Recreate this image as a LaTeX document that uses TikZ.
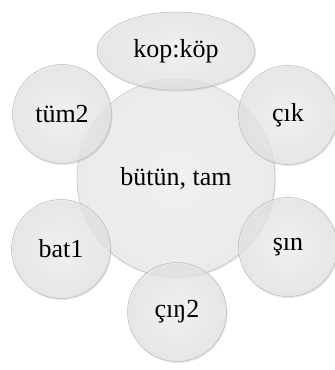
\documentclass[tikz,border=0pt]{standalone}
\usepackage{fontspec}
\setmainfont{Liberation Serif}
\usetikzlibrary{shapes.geometric,shadows}

\begin{document}
\begin{tikzpicture}[x=1pt, y=1pt,
		bubble/.style={draw=gray!55, line width=0.5pt, shading=radial,
			inner color=gray!8, outer color=gray!20, fill opacity=0.72,
			drop shadow={opacity=0.18, shadow xshift=1pt, shadow yshift=-1.5pt},
			text opacity=1, inner sep=0pt, font=\fontsize{26}{28}\selectfont},
		main node/.style={bubble, circle, minimum size=99pt},
		hub node/.style={bubble, circle, minimum size=198pt, inner color=gray!10, outer color=gray!15, fill opacity=0.9}]
			
			\useasboundingbox (0,0) rectangle (335,370);
			
			\node[hub node] (hub) at (176,192) {bütün, tam};
			
			\node[bubble, ellipse, minimum width=158pt, minimum height=78pt] (1) at (176,319) {kop:köp};
			\node[main node] (2) at (288,255) {çık};
			\node[main node] (3) at (288,123) {şın};
			\node[main node] (4) at (177,58) {çıŋ2};
			\node[main node] (5) at (61,121) {bat1};
			\node[main node] (6) at (62,256) {tüm2};
			
			\end{tikzpicture}
\end{document}
